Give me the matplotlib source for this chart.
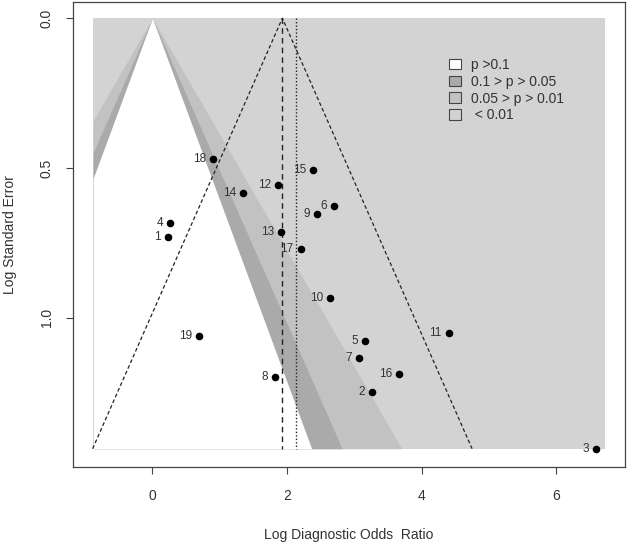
import numpy as np
import matplotlib
matplotlib.use('Agg')
import matplotlib.pyplot as plt
from matplotlib.patches import Patch

plt.rcParams['font.family'] = ['Liberation Sans', 'DejaVu Sans']

# study labels, log DOR and standard error
study = ['1', '2', '3', '4', '5', '6', '7', '8', '9', '10',
         '11', '12', '13', '14', '15', '16', '17', '18', '19']
log_dor = [0.23, 3.26, 6.59, 0.26, 3.16, 2.69, 3.07, 1.82, 2.44, 2.64,
           4.40, 1.87, 1.91, 1.35, 2.39, 3.66, 2.20, 0.90, 0.69]
log_se = [0.730, 1.249, 1.438, 0.685, 1.079, 0.626, 1.135, 1.197, 0.653, 0.935,
          1.052, 0.557, 0.715, 0.585, 0.507, 1.187, 0.772, 0.471, 1.061]

est_fixed = 1.93    # dashed centre line / funnel
est_random = 2.14   # dotted line
x_range = (-0.88, 6.73)

levels = [1.645, 1.96, 2.576]          # z for p = 0.1, 0.05, 0.01
shades = ['white', '#aaaaaa', '#c2c2c2']
back = '#d3d3d3'
legend_labels = ['p >0.1', '0.1 > p > 0.05', '0.05 > p > 0.01', ' < 0.01']

fig = plt.figure(figsize=(6.29, 5.44), dpi=100)
ax = fig.add_axes([73/629, 77/544, 552/629, 465/544])

se_max = max(log_se)
se = np.linspace(0, se_max, 200)

# contour shading, drawn from the outside in
ax.fill_betweenx([0, se_max], x_range[0], x_range[1], color=back, lw=0)
for z, c in zip(levels[::-1], shades[::-1]):
    lo = np.clip(-z * se, *x_range)
    hi = np.clip(z * se, *x_range)
    ax.fill_betweenx(se, lo, hi, color=c, lw=0)

# funnel around the pooled estimate
ax.plot([est_fixed - 1.96 * se_max, est_fixed, est_fixed + 1.96 * se_max],
        [se_max, 0, se_max], color='#222222', ls=(0, (3, 2)), lw=0.9)
ax.plot([est_fixed, est_fixed], [0, se_max], color='#222222', ls=(0, (4, 3)), lw=1.0)
ax.plot([est_random, est_random], [0, se_max], color='#222222', ls=(0, (1, 1.5)), lw=1.0)

ax.scatter(log_dor, log_se, s=20, color='black', zorder=5)
for lab, x, y in zip(study, log_dor, log_se):
    ax.annotate(lab, (x, y), xytext=(-5, 0), textcoords='offset points',
                ha='right', va='center', fontsize=8.5, color='#333333', zorder=6)

ax.set_xlim(-1.18, 7.02)
ax.set_ylim(1.499, -0.054)
ax.set_xticks([0, 2, 4, 6])
ax.set_yticks([0.0, 0.5, 1.0])
ax.set_yticklabels(['0.0', '0.5', '1.0'], rotation=90, va='center')
ax.tick_params(axis='both', length=5, width=0.8, colors='#444444',
               labelcolor='#333333', labelsize=10)
ax.tick_params(axis='x', pad=11)
ax.tick_params(axis='y', pad=9)
for sp in ax.spines.values():
    sp.set_color('#444444')
    sp.set_linewidth(0.9)

fig.text(0.5 * (73 + 625) / 629, 1 - 535 / 544, 'Log Diagnostic Odds  Ratio',
         ha='center', va='center', fontsize=10, color='#333333')
fig.text(10 / 629, 1 - 235 / 544, 'Log Standard Error', rotation=90,
         ha='center', va='center', fontsize=10, color='#333333')

handles = [Patch(facecolor=c, edgecolor='#444444', lw=0.8) for c in shades + [back]]
ax.legend(handles, legend_labels, loc='upper left', frameon=False,
          bbox_to_anchor=(449 / 629, 1 - 58 / 544), bbox_transform=fig.transFigure,
          borderpad=0, borderaxespad=0, handlelength=0.9, handleheight=0.8,
          handletextpad=0.7, labelspacing=0.2, fontsize=10, labelcolor='#333333')

fig.savefig('out.png', dpi=100)
